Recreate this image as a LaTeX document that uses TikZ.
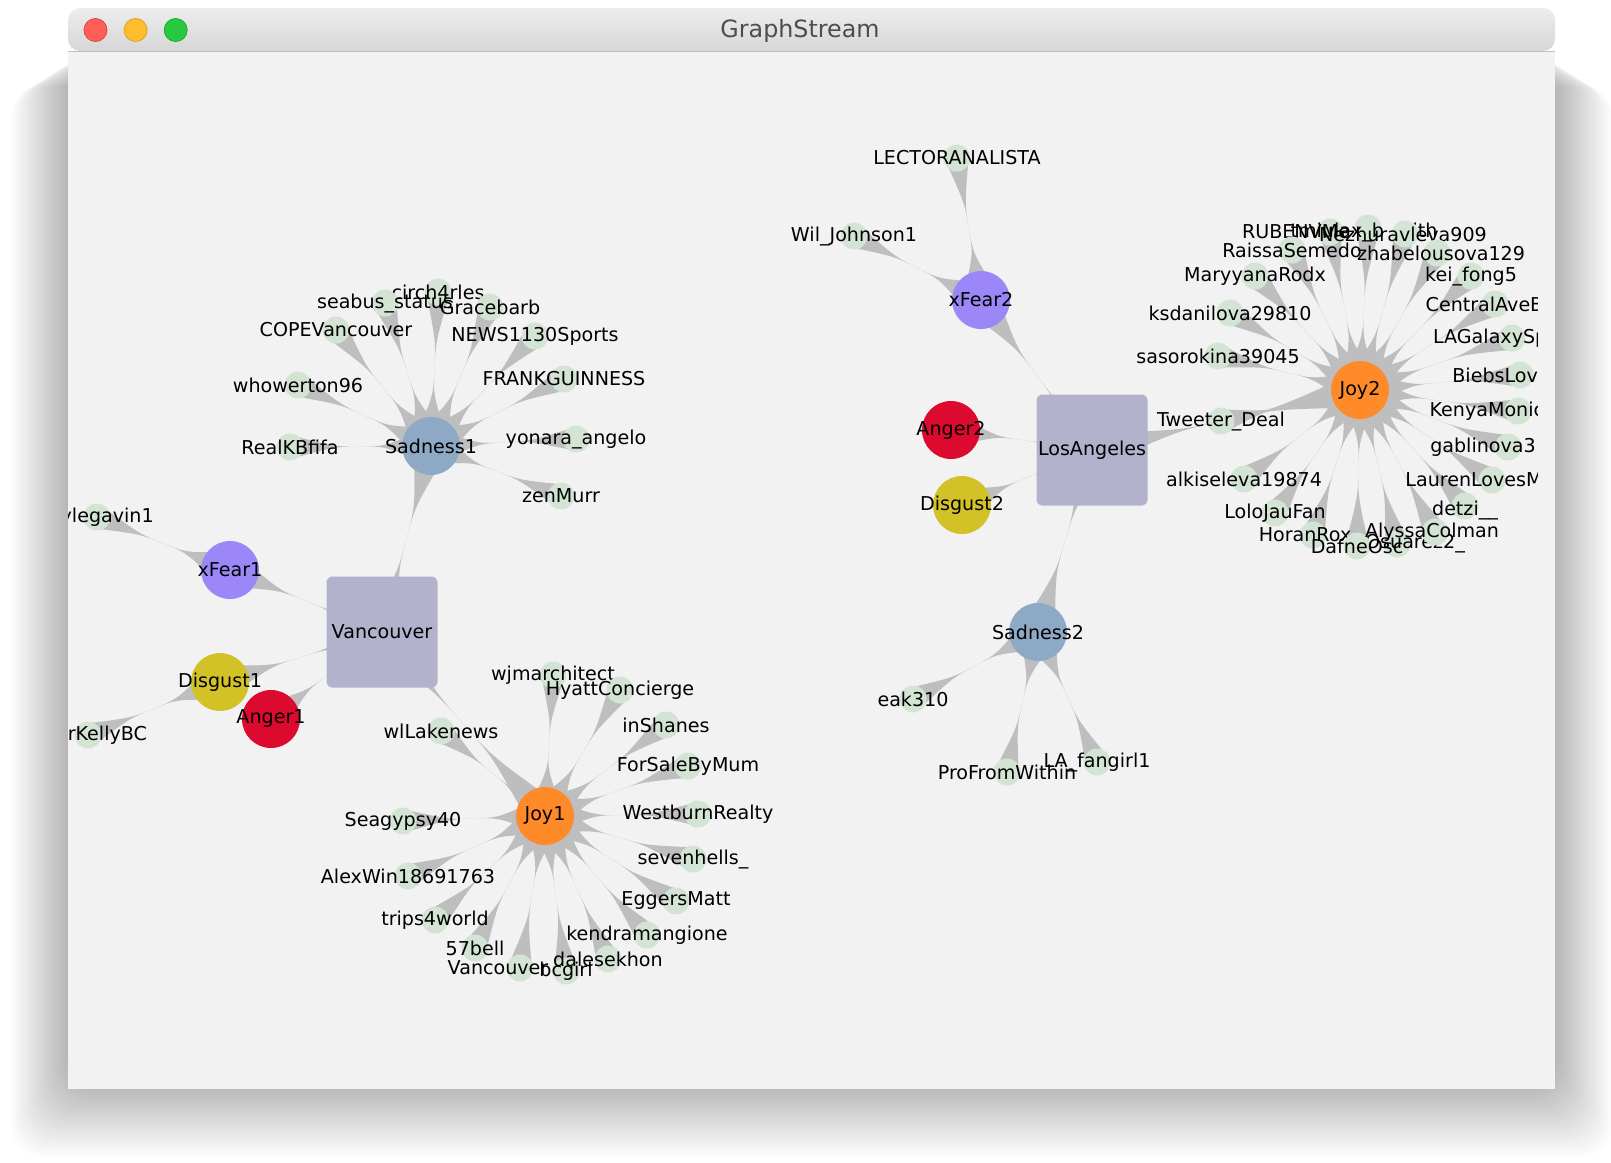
\documentclass[tikz,border=0pt]{standalone}
\usepackage{fontspec}
\setmainfont{DejaVu Sans}
\usetikzlibrary{calc}
\definecolor{panel}{HTML}{F2F2F2}
\definecolor{edgegray}{HTML}{BEBEBE}
\definecolor{leafgreen}{HTML}{D4E4D4}
\definecolor{cityblue}{HTML}{B2B2CC}
\definecolor{sadblue}{HTML}{8DA9C6}
\definecolor{fearpurple}{HTML}{9B87F7}
\definecolor{disgyellow}{HTML}{D3C227}
\definecolor{angerred}{HTML}{DC0A2E}
\definecolor{joyorange}{HTML}{FF8A2A}
\definecolor{titlegray}{HTML}{4D4D4D}
\newcommand{\lblfont}{\fontsize{9.55}{11}\selectfont}
% tapered edge between two named nodes
\newcommand{\blob}[4]{%
  \fill[blobfill] ($(#1)!#3!90:(#2)$) .. controls ($(#1)!0.32!(#2)$) .. ($(#1)!0.5!(#2)$)
    .. controls ($(#1)!0.68!(#2)$) .. ($(#2)!#4!-90:(#1)$) -- ($(#2)!#4!90:(#1)$)
    .. controls ($(#1)!0.68!(#2)$) .. ($(#1)!0.5!(#2)$)
    .. controls ($(#1)!0.32!(#2)$) .. ($(#1)!#3!-90:(#2)$) -- cycle;}
\newcommand{\spoke}[2]{\blob{#1}{#2}{10pt}{6pt}}
\newcommand{\trunk}[2]{\blob{#1}{#2}{9pt}{9pt}}
\pgfdeclarelayer{bg}
\pgfdeclarelayer{edges}
\pgfsetlayers{bg,edges,main}
\begin{document}
\begin{tikzpicture}[x=0.5pt,y=-0.5pt,
  hub/.style={circle,minimum size=29pt,inner sep=0pt},
  leaf/.style={circle,minimum size=13.5pt,inner sep=0pt,fill=leafgreen},
  city/.style={rounded corners=3pt,minimum size=55.5pt,inner sep=0pt,fill=cityblue,font=\lblfont},
  light/.style={circle,minimum size=11.5pt,inner sep=0pt,line width=0.4pt},
  blobfill/.style={fill=edgegray},
  every label/.style={font=\lblfont,inner sep=0pt,text=black}]
\useasboundingbox (0,0) rectangle (1611,1162);

% window, shadow and title bar
\begin{pgfonlayer}{bg}
\fill[white] (0,0) rectangle (1611,1162);
\foreach \i in {1,...,36}
  \fill[black,opacity=0.0065,rounded corners=16pt] (68-1.6*\i,50+\i) rectangle (1555+1.6*\i,1085+2*\i);
\fill[panel] (68,51) rectangle (1555,1089);
\shade[top color=black!7,bottom color=black!16,rounded corners=6pt] (68,51) -- (68,8) -- (1555,8) -- (1555,51) -- cycle;
\draw[black!25] (68,51) -- (1555,51);
\end{pgfonlayer}
\node[font=\fontsize{11.9}{14}\selectfont,text=titlegray] (title) at (800,31) {GraphStream};
\node[light,fill={rgb,255:red,255;green,95;blue,87},draw={rgb,255:red,224;green,68;blue,62}] (close) at (95.5,30) {};
\node[light,fill={rgb,255:red,255;green,189;blue,46},draw={rgb,255:red,222;green,161;blue,35}] (mini) at (135.6,30) {};
\node[light,fill={rgb,255:red,40;green,201;blue,65},draw={rgb,255:red,26;green,171;blue,41}] (zoom) at (175.7,30) {};

\begin{scope}
\clip (68,52) rectangle (1537,1089);
% Vancouver
\node[city] (van) at (382,632) {Vancouver};
\node[hub,fill=sadblue,label={center:Sadness1}] (s1) at (431,446) {};
\node[hub,fill=fearpurple,label={center:xFear1}] (f1) at (230,570) {};
\node[hub,fill=disgyellow,label={center:Disgust1}] (d1) at (220,682) {};
\node[hub,fill=angerred,label={center:Anger1}] (a1) at (271,719) {};
\node[hub,fill=joyorange,label={center:Joy1}] (j1) at (545,816) {};

\node[leaf,label={[xshift=5.1pt]center:ylegavin1}] (ylega) at (97,517) {};
\node[leaf,label={[xshift=9.7pt]center:rKellyBC}] (rkel) at (88,735) {};

\node[leaf,label={center:circh4rles}] (circh) at (438,292) {};
\node[leaf,label={center:seabus\_status}] (seabus) at (385,303) {};
\node[leaf,label={center:Gracebarb}] (grace) at (490,307) {};
\node[leaf,label={center:COPEVancouver}] (cope) at (336,330) {};
\node[leaf,label={center:NEWS1130Sports}] (news) at (535,336) {};
\node[leaf,label={center:whowerton96}] (whow) at (298,385) {};
\node[leaf,label={center:FRANKGUINNESS}] (frank) at (564,379) {};
\node[leaf,label={center:RealKBfifa}] (realkb) at (290,447) {};
\node[leaf,label={center:yonara\_angelo}] (yonara) at (576,439) {};
\node[leaf,label={center:zenMurr}] (zen) at (561,496) {};

\node[leaf,label={center:wjmarchitect}] (wjm) at (553,675) {};
\node[leaf,label={center:HyattConcierge}] (hyatt) at (620,690) {};
\node[leaf,label={center:inShanes}] (insh) at (666,725) {};
\node[leaf,label={center:ForSaleByMum}] (forsale) at (688,766) {};
\node[leaf,label={center:WestburnRealty}] (westb) at (698,814) {};
\node[leaf,label={center:sevenhells\_}] (seven) at (693,859) {};
\node[leaf,label={center:EggersMatt}] (eggers) at (676,901) {};
\node[leaf,label={center:kendramangione}] (kendra) at (647,935) {};
\node[leaf,label={center:Seagypsy40}] (seag) at (403,821) {};
\node[leaf,label={center:AlexWin18691763}] (alexw) at (408,876) {};
\node[leaf,label={center:trips4world}] (trips) at (435,920) {};
\node[leaf,label={center:57bell}] (bell) at (475,948) {};
\node[leaf,label={[xshift=-11pt]center:Vancouver}] (vanc) at (520,968) {};
\node[leaf,label={center:bcgirl}] (bcgirl) at (566,971) {};
\node[leaf,label={center:dalesekhon}] (dales) at (608,959) {};
\node[leaf,label={center:wlLakenews}] (wllake) at (441,731) {};

% Los Angeles
\node[city] (la) at (1092,450) {LosAngeles};
\node[hub,fill=fearpurple,label={center:xFear2}] (f2) at (981,300) {};
\node[hub,fill=angerred,label={center:Anger2}] (a2) at (951,430) {};
\node[hub,fill=disgyellow,label={center:Disgust2}] (d2) at (962,505) {};
\node[hub,fill=sadblue,label={center:Sadness2}] (s2) at (1038,632) {};
\node[hub,fill=joyorange,label={center:Joy2}] (j2) at (1360,390) {};

\node[leaf,label={center:LECTORANALISTA}] (lector) at (957,158) {};
\node[leaf,label={center:Wil\_Johnson1}] (wil) at (854,236) {};
\node[leaf,label={center:eak310}] (eak) at (913,699) {};
\node[leaf,label={center:ProFromWithin}] (profrom) at (1007,772) {};
\node[leaf,label={center:LA\_fangirl1}] (lafan) at (1097,762) {};

\node[leaf,label={center:Tweeter\_Deal}] (tweet) at (1221,421) {};
\node[leaf,label={center:sasorokina39045}] (saso) at (1218,356) {};
\node[leaf,label={center:ksdanilova29810}] (ksdan) at (1230,313) {};
\node[leaf,label={center:MaryyanaRodx}] (marya) at (1255,276) {};
\node[leaf,label={[xshift=-17pt]center:RUBENVMe}] (ruben) at (1330,232) {};
\node[leaf,label={center:RaissaSemedo}] (raissa) at (1292,250) {};
\node[leaf,label={[xshift=-2pt,yshift=-2pt]center:tmiulax\_b\hphantom{sm}ith}] (tmiu) at (1368,228) {};
\node[leaf,label={[xshift=-1pt]center:Nezhuravleva909}] (nezh) at (1405,234) {};
\node[leaf,label={[xshift=2pt]center:zhabelousova129}] (zhab) at (1437,253) {};
\node[leaf,label={center:kei\_fong5}] (kei) at (1471,276) {};
\node[leaf,label={[xshift=-5.25pt]center:CentralAveB}] (central) at (1495,304) {};
\node[leaf,label={[xshift=-10.9pt]center:LAGalaxySp}] (lagal) at (1512,338) {};
\node[leaf,label={[xshift=-9.5pt]center:BiebsLove}] (biebs) at (1520,375) {};
\node[leaf,label={[xshift=-15.6pt]center:KenyaMonic}] (kenya) at (1518,411) {};
\node[leaf,label={[xshift=-12.5pt]center:gablinova3}] (gabl) at (1508,447) {};
\node[leaf,label={[xshift=-9pt]center:LaurenLovesM}] (lauren) at (1492,480) {};
\node[leaf,label={[yshift=-2pt]center:detzi\_\_}] (detzi) at (1465,506) {};
\node[leaf,label={center:alkiseleva19874}] (alkis) at (1244,479) {};
\node[leaf,label={center:LoloJauFan}] (lolo) at (1275,513) {};
\node[leaf,label={[xshift=-4pt]center:HoranRox}] (horan) at (1313,535) {};
\node[leaf,label={[xshift=9pt]center:Osuarez2\_}] (osua) at (1397,544) {};
\node[leaf,label={center:DafneOsc}] (dafne) at (1357,546) {};
\node[leaf,label={[xshift=-1.5pt]center:AlyssaColman}] (alyssa) at (1435,532) {};
\end{scope}

% tapered edges behind the nodes
\begin{pgfonlayer}{edges}
\foreach \h in {s1,f1,d1,a1,j1} {\trunk{van}{\h}}
\foreach \h in {f2,a2,d2,s2,j2} {\trunk{la}{\h}}
\spoke{f1}{ylega}
\spoke{d1}{rkel}
\foreach \l in {circh,seabus,grace,cope,news,whow,frank,realkb,yonara,zen} {\spoke{s1}{\l}}
\foreach \l in {wjm,hyatt,insh,forsale,westb,seven,eggers,kendra,seag,alexw,trips,bell,vanc,bcgirl,dales,wllake} {\spoke{j1}{\l}}
\foreach \l in {lector,wil} {\spoke{f2}{\l}}
\foreach \l in {eak,profrom,lafan} {\spoke{s2}{\l}}
\foreach \l in {tweet,saso,ksdan,marya,ruben,raissa,tmiu,nezh,zhab,kei,central,lagal,biebs,kenya,gabl,lauren,detzi,alkis,lolo,horan,osua,dafne,alyssa} {\spoke{j2}{\l}}
\end{pgfonlayer}
\end{tikzpicture}
\end{document}
